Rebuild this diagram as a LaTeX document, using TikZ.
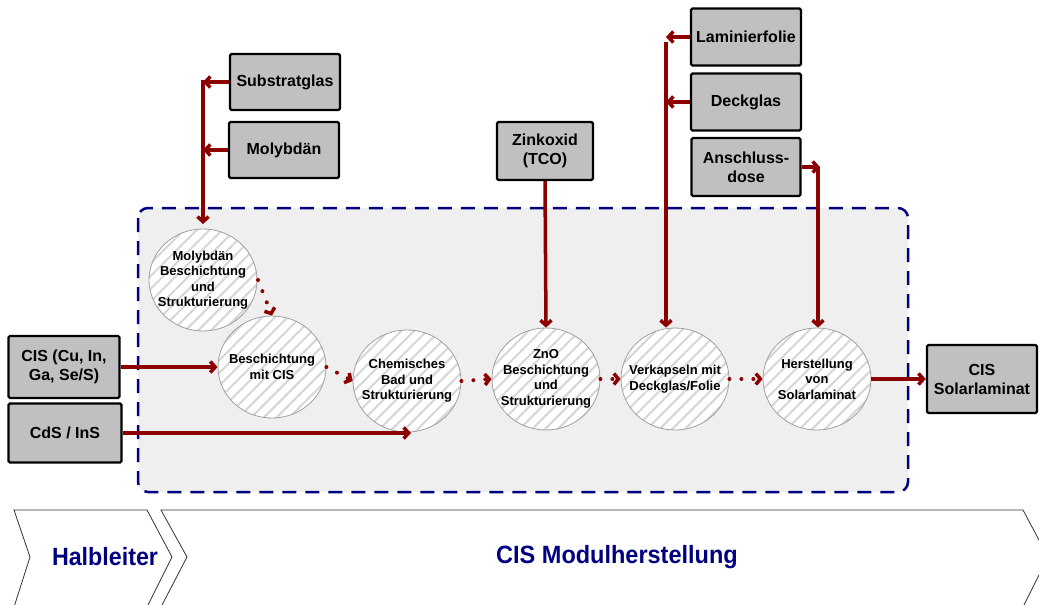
\documentclass[tikz,border=0pt]{standalone}
\usepackage{fontspec}
\setmainfont{Liberation Sans}
\usetikzlibrary{arrows.meta,shapes.geometric,patterns.meta}
\definecolor{arrowred}{RGB}{140,0,0}
\definecolor{navyb}{RGB}{0,0,128}
\definecolor{boxgray}{RGB}{192,192,192}
\definecolor{panelgray}{RGB}{239,239,239}
\definecolor{stripe}{RGB}{214,214,214}
\begin{document}
\begin{tikzpicture}[x=1pt,y=-1pt,
  ibox/.style={draw=black, line width=2.4pt, fill=boxgray, rounded corners=1.5pt, inner sep=2pt, align=center, font=\fontsize{16}{19}\selectfont\bfseries},
  proc/.style={ellipse, draw=gray!75, line width=0.8pt, minimum width=108pt, minimum height=102pt, inner xsep=-16pt, inner ysep=0pt, align=center, font=\fontsize{13}{15.5}\selectfont\bfseries, preaction={fill=white}, pattern={Lines[angle=45,distance=9pt,line width=2pt]}, pattern color=stripe},
  flow/.style={draw=arrowred, line width=3.5pt, -{Straight Barb[length=5pt,width=11pt]}},
  dotflow/.style={draw=arrowred, line width=4pt, line cap=round, dash pattern=on 0pt off 12pt, -{Straight Barb[length=4.5pt,width=11pt,line width=3.5pt]}},
  chev/.style={draw=gray!40!black, line width=0.8pt, fill=white},
  chevtext/.style={text=navyb, font=\fontsize{25}{28}\selectfont\bfseries}
]
\useasboundingbox (0,0) rectangle (1039,605);
\clip (0,0) rectangle (1039,605);

% panel
\draw[draw=navyb, line width=2.5pt, dash pattern=on 14pt off 9pt, fill=panelgray, rounded corners=10pt] (138,208) rectangle (908,492);

% process circles
\node[proc] (c1) at (203,280) {Molybdän\\Beschichtung\\und\\Strukturierung};
\node[proc] (c2) at (272,367) {Beschichtung\\mit CIS};
\node[proc] (c3) at (407,381) {Chemisches\\Bad und\\Strukturierung};
\node[proc] (c4) at (546,379) {ZnO\\Beschichtung\\und\\Strukturierung};
\node[proc] (c5) at (675,379) {Verkapseln mit\\Deckglas/Folie};
\node[proc] (c6) at (817,379) {Herstellung\\von\\Solarlaminat};

% input boxes
\node[ibox, minimum width=110pt, minimum height=56pt] (sub) at (285,82) {Substratglas};
\node[ibox, minimum width=110pt, minimum height=56pt] (mol) at (284,150) {Molybdän};
\node[ibox, minimum width=96pt, minimum height=58pt] (zn) at (545,151) {Zinkoxid\\(TCO)};
\node[ibox, minimum width=110pt, minimum height=57pt] (lam) at (746,37) {Laminierfolie};
\node[ibox, minimum width=110pt, minimum height=57pt] (dg) at (746,102) {Deckglas};
\node[ibox, minimum width=109pt, minimum height=58pt] (an) at (746,167) {Anschluss-\\dose};
\node[ibox, minimum width=111pt, minimum height=62pt] (cis) at (64,367) {CIS (Cu, In,\\Ga, Se/S)};
\node[ibox, minimum width=113pt, minimum height=59pt] (cds) at (65,433) {CdS / InS};
\node[ibox, minimum width=110pt, minimum height=68pt] (sol) at (982,379) {CIS\\Solarlaminat};

% connectors
\coordinate (jm) at (203,80);
\draw[flow] (sub.west) -- (sub.west -| jm);
\draw[flow] (mol.west) -- (mol.west -| jm);
\draw[flow, shorten >=4pt] (jm) -- (c1.north);

\draw[flow] (cis.east) -- (c2.west);
\coordinate (cdsend) at (411,433);
\draw[flow] (cds.east) -- (cdsend);

\draw[flow] (zn.south) -- (c4.north);

\coordinate (jl) at (666,42);
\draw[flow] (lam.west) -- (lam.west -| jl);
\draw[flow] (dg.west) -- (dg.west -| jl);
\draw[flow] (jl) -- (jl |- c5.north);

\coordinate (ja) at (820,167);
\draw[flow] (an.east) -- (ja);
\coordinate (jb) at (818,167);
\draw[flow] (jb) -- (jb |- c6.north);

\draw[flow] (c6.east) -- (sol.west);

\draw[dotflow] (c1.east) -- (c2.north);
\draw[dotflow] (c2.east) -- (c3.west);
\draw[dotflow] (c3.east) -- (c4.west);
\draw[dotflow] (c4.east) -- (c5.west);
\draw[dotflow] (c5.east) -- (c6.west);

% chevrons
\draw[chev] (14,607) -- (30,557) -- (14,510) -- (147,510) -- (172,557) -- (147,607);
\draw[chev] (161,607) -- (187,557) -- (161,510) -- (1023,510) -- (1048,557) -- (1023,607);
\node[chevtext] (hl) at (105,557) {\scalebox{0.93}[1]{Halbleiter}};
\node[chevtext] (cm) at (617,557) {\scalebox{0.94}[1]{CIS Modulherstellung}};
\end{tikzpicture}
\end{document}
